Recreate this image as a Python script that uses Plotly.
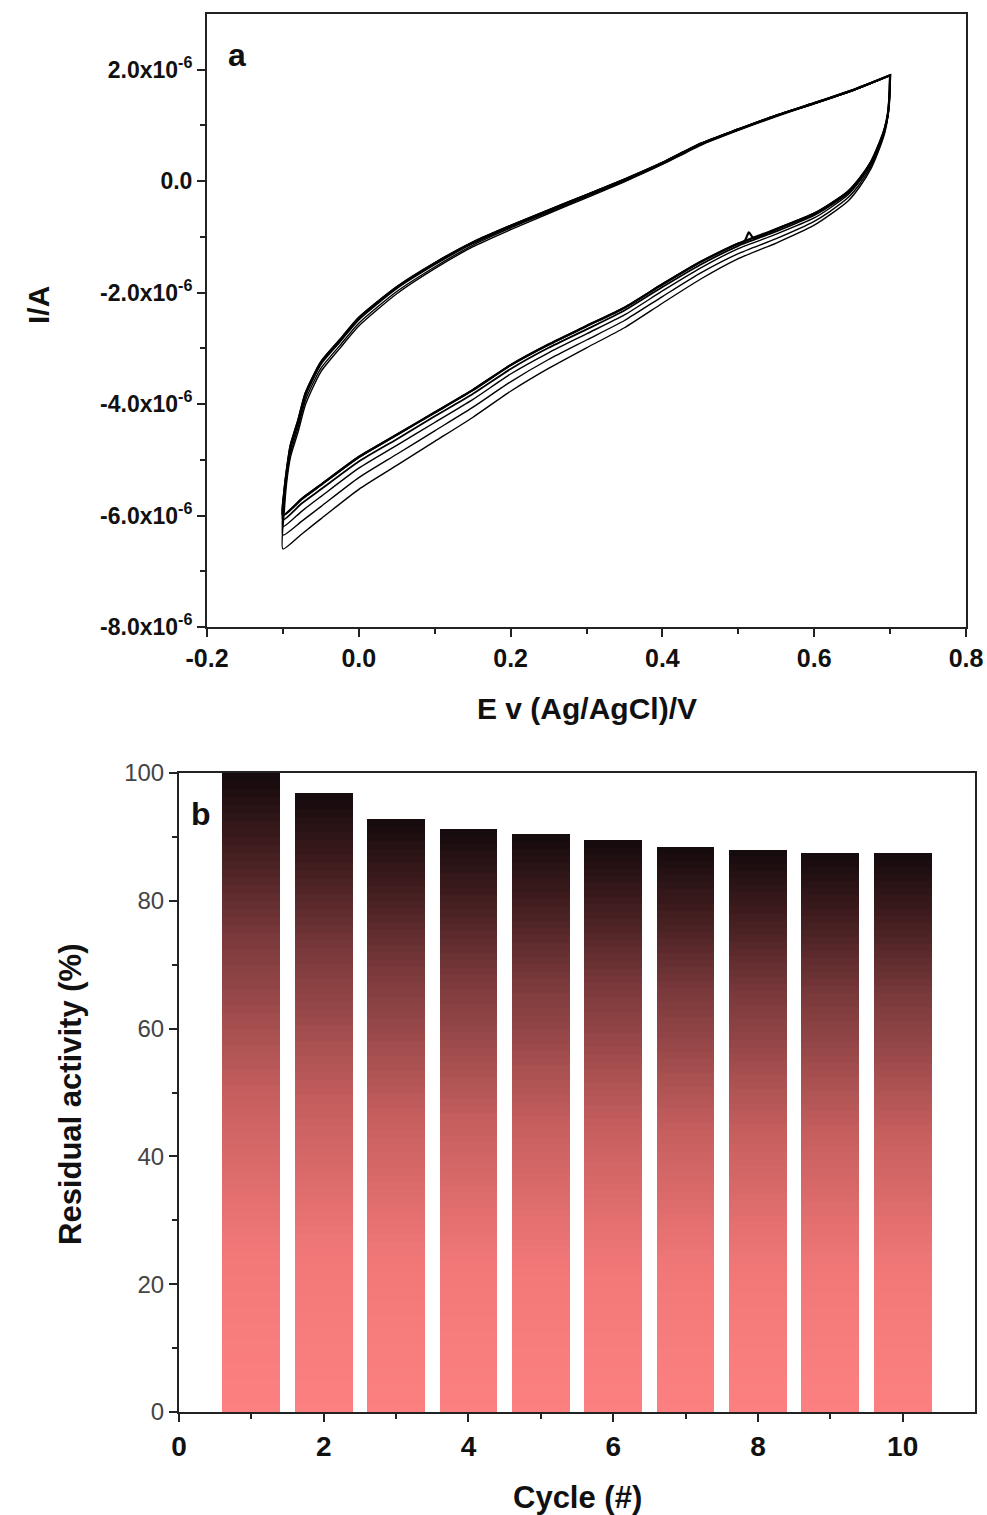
import plotly.graph_objects as go

# ---------------- Panel a: cyclic voltammograms (current in microampere) ----------------
E_up = [-0.1, -0.098, -0.095, -0.09, -0.08, -0.07, -0.05, -0.025, 0.0, 0.05, 0.1, 0.15,
        0.2, 0.25, 0.3, 0.35, 0.4, 0.45, 0.5, 0.55, 0.6, 0.65, 0.7]
E_low = [0.7, 0.699, 0.697, 0.693, 0.685, 0.675, 0.66, 0.645, 0.62, 0.6, 0.55, 0.5, 0.45,
         0.4, 0.35, 0.3, 0.25, 0.2, 0.15, 0.1, 0.05, 0.0, -0.05, -0.075, -0.1]
E_low_blip = [0.7, 0.699, 0.697, 0.693, 0.685, 0.675, 0.66, 0.645, 0.62, 0.6, 0.55, 0.52,
              0.514, 0.508, 0.5, 0.45, 0.4, 0.35, 0.3, 0.25, 0.2, 0.15, 0.1, 0.05, 0.0,
              -0.05, -0.075, -0.1]

up_c1 = [-6.0, -5.55, -5.2, -4.75, -4.3, -3.8, -3.25, -2.85, -2.45, -1.9, -1.47, -1.1,
         -0.8, -0.52, -0.25, 0.03, 0.33, 0.67, 0.93, 1.18, 1.4, 1.63, 1.9]
up_c2 = [-6.6, -5.9, -5.4, -4.95, -4.5, -4.0, -3.42, -3.0, -2.6, -2.02, -1.57, -1.18,
         -0.87, -0.58, -0.3, -0.01, 0.3, 0.64, 0.91, 1.16, 1.39, 1.62, 1.9]
up_c3 = [-6.35, -5.75, -5.32, -4.88, -4.42, -3.92, -3.36, -2.95, -2.55, -1.98, -1.54, -1.15,
         -0.84, -0.56, -0.28, 0.0, 0.31, 0.65, 0.92, 1.17, 1.39, 1.62, 1.9]
up_c4 = [-6.2, -5.65, -5.26, -4.8, -4.35, -3.85, -3.29, -2.89, -2.49, -1.93, -1.5, -1.12,
         -0.82, -0.54, -0.26, 0.02, 0.32, 0.66, 0.93, 1.18, 1.4, 1.63, 1.9]
up_c5 = [-6.08, -5.58, -5.22, -4.77, -4.32, -3.82, -3.27, -2.87, -2.47, -1.91, -1.48, -1.11,
         -0.81, -0.53, -0.25, 0.03, 0.33, 0.67, 0.93, 1.18, 1.4, 1.63, 1.9]
up_c6 = [-6.0, -5.55, -5.2, -4.75, -4.3, -3.8, -3.25, -2.85, -2.45, -1.9, -1.47, -1.1,
         -0.8, -0.52, -0.25, 0.03, 0.33, 0.67, 0.93, 1.18, 1.4, 1.63, 1.9]

low_c1 = [1.9, 1.5, 1.2, 0.95, 0.65, 0.35, 0.05, -0.18, -0.42, -0.58, -0.86, -1.02, -0.92,
          -1.08, -1.12, -1.45, -1.85, -2.27, -2.6, -2.93, -3.3, -3.75, -4.15, -4.55, -4.95,
          -5.45, -5.7, -6.0]
low_c2 = [1.9, 1.47, 1.15, 0.87, 0.55, 0.23, -0.1, -0.35, -0.61, -0.79, -1.11, -1.39, -1.76,
          -2.19, -2.63, -2.99, -3.36, -3.77, -4.24, -4.67, -5.1, -5.53, -6.06, -6.33, -6.6]
low_c3 = [1.9, 1.48, 1.17, 0.9, 0.58, 0.27, -0.05, -0.29, -0.55, -0.72, -1.03, -1.3, -1.65,
          -2.07, -2.5, -2.85, -3.2, -3.6, -4.06, -4.48, -4.9, -5.32, -5.84, -6.1, -6.35]
low_c4 = [1.9, 1.49, 1.19, 0.93, 0.62, 0.31, 0.0, -0.24, -0.49, -0.66, -0.95, -1.21, -1.56,
          -1.97, -2.4, -2.74, -3.08, -3.46, -3.92, -4.33, -4.74, -5.15, -5.66, -5.92, -6.2]
low_c5 = [1.9, 1.5, 1.2, 0.94, 0.63, 0.33, 0.02, -0.21, -0.45, -0.61, -0.9, -1.16, -1.5,
          -1.9, -2.32, -2.66, -2.99, -3.37, -3.82, -4.22, -4.63, -5.03, -5.53, -5.78, -6.08]
low_c6 = [1.9, 1.5, 1.2, 0.95, 0.65, 0.35, 0.05, -0.18, -0.42, -0.58, -0.86, -1.12, -1.45,
          -1.85, -2.27, -2.6, -2.93, -3.3, -3.75, -4.15, -4.55, -4.95, -5.45, -5.7, -6.0]

cycles = [
    (up_c1, E_low_blip, low_c1, 2.2),
    (up_c2, E_low, low_c2, 1.4),
    (up_c3, E_low, low_c3, 1.4),
    (up_c4, E_low, low_c4, 1.4),
    (up_c5, E_low, low_c5, 1.8),
    (up_c6, E_low, low_c6, 2.2),
]

ytick_vals_a = [-8e-6, -6e-6, -4e-6, -2e-6, 0.0, 2e-6]
ytick_text_a = ["-8.0x10<sup>-6</sup>", "-6.0x10<sup>-6</sup>", "-4.0x10<sup>-6</sup>",
                "-2.0x10<sup>-6</sup>", "0.0", "2.0x10<sup>-6</sup>"]
xtick_vals_a = [-0.2, 0.0, 0.2, 0.4, 0.6, 0.8]

# ---------------- Panel b: residual activity ----------------
cycle_no = [1, 2, 3, 4, 5, 6, 7, 8, 9, 10]
residual = [100.0, 96.8, 92.8, 91.2, 90.4, 89.5, 88.4, 87.9, 87.5, 87.5]

# gradient stops (fraction of bar height from bottom -> rgb)
grad_pos = [0.0, 0.25, 0.5, 0.75, 0.9, 1.0]
grad_rgb = [(252, 128, 128), (242, 120, 120), (198, 94, 94), (120, 56, 58), (58, 26, 28), (20, 10, 12)]


def grad_color(t):
    for i in range(len(grad_pos) - 1):
        if grad_pos[i] <= t <= grad_pos[i + 1]:
            f = (t - grad_pos[i]) / (grad_pos[i + 1] - grad_pos[i])
            c = [round(grad_rgb[i][j] + f * (grad_rgb[i + 1][j] - grad_rgb[i][j])) for j in range(3)]
            return "rgb({},{},{})".format(*c)
    return "rgb({},{},{})".format(*grad_rgb[-1])


FONT = "Liberation Sans, Arial, sans-serif"
AX = "#222222"

fig = go.Figure()

for up, el, lo, lw in cycles:
    xs = E_up + el
    ys = [v * 1e-6 for v in up + lo]
    fig.add_trace(go.Scatter(x=xs, y=ys, mode="lines",
                             line=dict(color="black", width=lw, shape="spline", smoothing=0.6),
                             xaxis="x", yaxis="y", showlegend=False, hoverinfo="skip"))

N = 80
for k in range(N):
    frac = (N - k) / N
    fig.add_trace(go.Bar(
        x=cycle_no, y=[v * frac for v in residual], width=0.8,
        marker=dict(color=grad_color((N - k - 0.5) / N), line=dict(width=0)),
        xaxis="x2", yaxis="y2", showlegend=False, hoverinfo="skip"))

common = dict(showline=True, linecolor=AX, linewidth=2, mirror=True, ticks="outside",
              ticklen=8, tickwidth=2, tickcolor=AX, showgrid=False, zeroline=False,
              automargin=False)

fig.update_layout(
    width=987, height=1515,
    margin=dict(l=0, r=0, t=0, b=0, autoexpand=False),
    paper_bgcolor="white", plot_bgcolor="white",
    barmode="overlay", bargap=0,
    font=dict(family=FONT, color="#111"),
    xaxis=dict(domain=[207 / 987, 966 / 987], anchor="y", range=[-0.2, 0.8],
               tickmode="array", tickvals=xtick_vals_a,
               ticktext=["-0.2", "0.0", "0.2", "0.4", "0.6", "0.8"],
               tickfont=dict(size=25, family=FONT, weight="bold", color="#111"),
               minor=dict(ticks="outside", ticklen=5, tickwidth=1.5, tickcolor=AX,
                          tickvals=[-0.1, 0.1, 0.3, 0.5, 0.7]),
               **common),
    yaxis=dict(domain=[1 - 627 / 1515, 1 - 14 / 1515], anchor="x", range=[-8e-6, 3e-6],
               tickmode="array", tickvals=ytick_vals_a, ticktext=ytick_text_a,
               tickfont=dict(size=23, family=FONT, weight="bold", color="#111"),
               minor=dict(ticks="outside", ticklen=5, tickwidth=1.5, tickcolor=AX,
                          tickvals=[-7e-6, -5e-6, -3e-6, -1e-6, 1e-6]),
               **common),
    xaxis2=dict(domain=[179 / 987, 975 / 987], anchor="y2", range=[0, 11],
                tickmode="array", tickvals=[0, 2, 4, 6, 8, 10],
                tickfont=dict(size=28, family=FONT, weight="bold", color="#111"),
                minor=dict(ticks="outside", ticklen=5, tickwidth=1.5, tickcolor=AX,
                           tickvals=[1, 3, 5, 7, 9]),
                **common),
    yaxis2=dict(domain=[1 - 1412 / 1515, 1 - 773 / 1515], anchor="x2", range=[0, 100],
                tickmode="array", tickvals=[0, 20, 40, 60, 80, 100],
                tickfont=dict(size=24, family=FONT, color="#444"),
                minor=dict(ticks="outside", ticklen=5, tickwidth=1.5, tickcolor=AX,
                           tickvals=[10, 30, 50, 70, 90]),
                **common),
)

ann = [
    ("E v (Ag/AgCl)/V", 587, 708, 0, 30),
    ("I/A", 38, 305, -90, 30),
    ("Residual activity (%)", 70, 1095, -90, 31),
    ("Cycle (#)", 577, 1497, 0, 31),
    ("a", 237, 55, 0, 32),
    ("b", 201, 814, 0, 32),
]
for text, px, py, ang, size in ann:
    fig.add_annotation(text=text, xref="paper", yref="paper", x=px / 987, y=1 - py / 1515,
                       xanchor="center", yanchor="middle", showarrow=False, textangle=ang,
                       font=dict(size=size, family=FONT, weight="bold", color="#111"))

fig.write_html("out.html", config={"displayModeBar": False},
               post_script="document.body.style.margin='0';document.body.style.overflow='hidden';")
